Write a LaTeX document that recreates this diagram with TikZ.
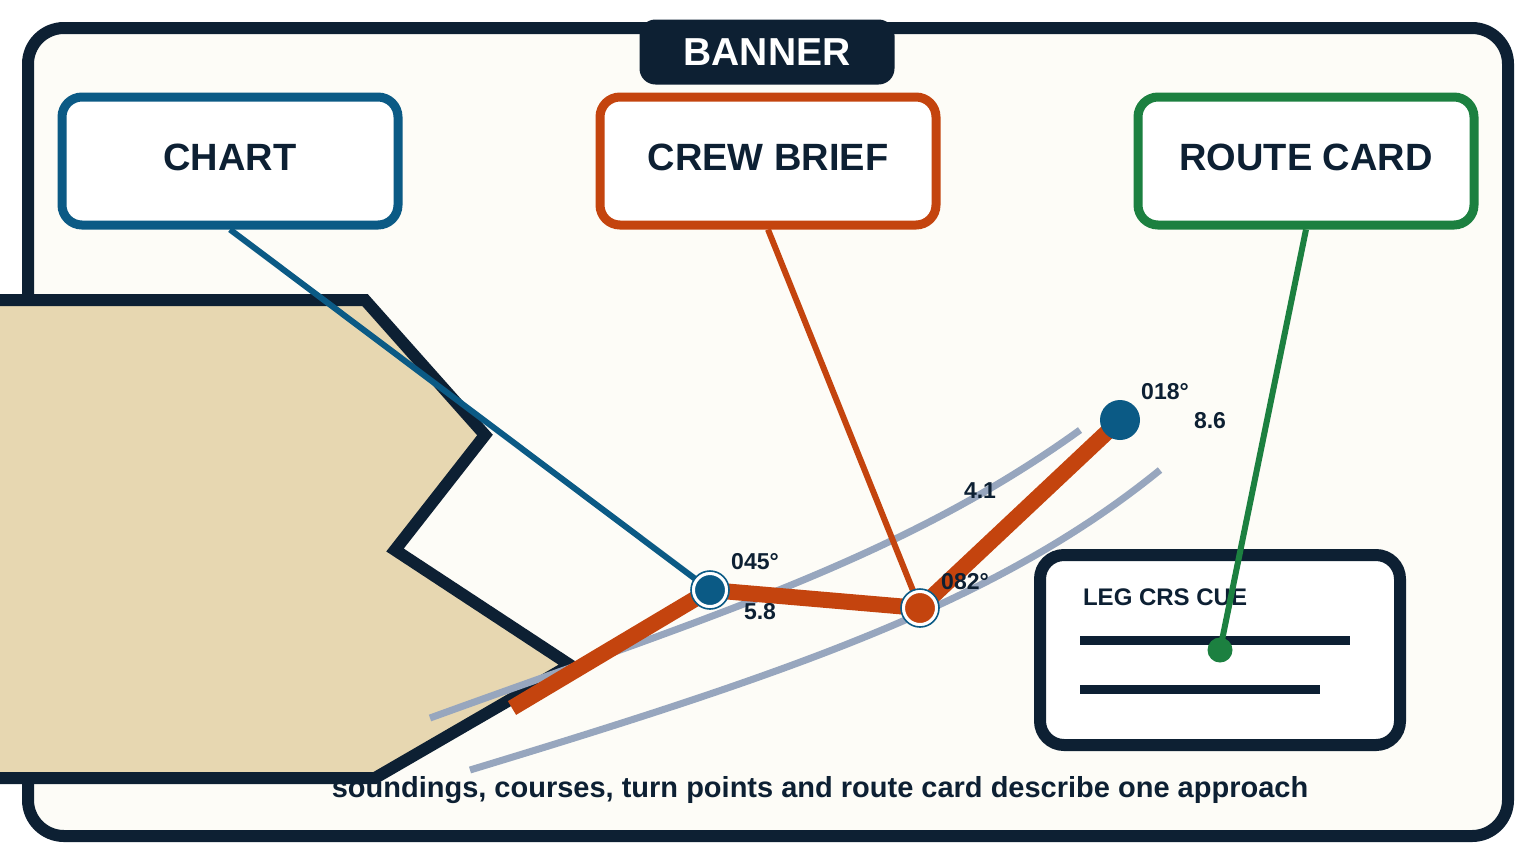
\documentclass[tikz,border=0pt]{standalone}
\usepackage{fontspec}
\setmainfont{Liberation Sans}
\begin{document}
\begin{tikzpicture}[x=0.5pt,y=-0.5pt,
  box/.style={line width=4.5pt,rounded corners=10pt,fill=white,minimum width=168pt,minimum height=64pt,font=\bfseries\fontsize{19}{22}\selectfont,text=ink,text depth=4pt},
  lbl/.style={font=\bfseries\fontsize{11.5}{13}\selectfont,text=ink},
  contour/.style={draw=contourc,line width=3.5pt},
  conn/.style={line width=3pt}]
\definecolor{ink}{HTML}{0D2033}
\definecolor{bg}{HTML}{FDFCF7}
\definecolor{cblue}{HTML}{0B5A85}
\definecolor{corange}{HTML}{C4440E}
\definecolor{cgreen}{HTML}{1C8040}
\definecolor{land}{HTML}{E7D7B1}
\definecolor{contourc}{HTML}{97A6BE}
\useasboundingbox (0,0) rectangle (1536,864);
\fill[white] (0,0) rectangle (1536,864);
\draw[ink,fill=bg,line width=6pt,rounded corners=18pt] (28,28) rectangle (1508,836);
% banner
\node[fill=ink,rounded corners=8pt,minimum width=127.5pt,minimum height=32.5pt,text=white,font=\bfseries\fontsize{19.5}{22}\selectfont] (banner) at (767,52) {BANNER};
% boxes
\node[box,draw=cblue] (chart) at (230,161) {CHART};
\node[box,draw=corange] (crew) at (768,161) {CREW BRIEF};
\node[box,draw=cgreen] (route) at (1306,161) {ROUTE CARD};
% hidden label
\node[lbl] (l7) at (550,666) {7};
% land
\draw[ink,fill=land,line width=6pt,line join=miter] (0,300) -- (365,300) -- (485,435) -- (395,550) -- (570,665) -- (375,778) -- (0,778);
% contours
\draw[contour] (430,718) .. controls (700,620) and (900,560) .. (1080,430);
\draw[contour] (470,770) .. controls (800,670) and (1000,600) .. (1160,470);
% card
\draw[ink,fill=white,line width=6pt,rounded corners=12pt] (1040,555) rectangle (1400,745);
\node[lbl,anchor=west,font=\bfseries\fontsize{12}{14}\selectfont] (cue) at (1076,597) {LEG CRS CUE};
\coordinate (c1a) at (1080,640); \coordinate (c1b) at (1350,640);
\coordinate (c2a) at (1080,689); \coordinate (c2b) at (1320,689);
\draw[ink,line width=4.5pt] (c1a) -- (c1b);
\draw[ink,line width=4.5pt] (c2a) -- (c2b);
% route
\coordinate (start) at (512,708);
\coordinate (wp1) at (710,590);
\coordinate (wp2) at (920,608);
\coordinate (wp3) at (1120,420);
\draw[corange,line width=8pt] (start) -- (wp1) -- (wp2) -- (wp3);
% connectors
\coordinate (gdot) at (1220,650);
\draw[cblue,conn] (chart.south) -- (wp1);
\draw[corange,conn] (crew.south) -- (wp2);
\draw[cgreen,conn] (route.south) -- (gdot);
% waypoint markers
\node[circle,fill=cblue,draw=white,line width=2pt,minimum size=17pt,inner sep=0pt] (m1) at (wp1) {};
\draw[cblue,line width=0.8pt] (m1) circle (9.5pt);
\node[circle,fill=corange,draw=white,line width=2pt,minimum size=17pt,inner sep=0pt] (m2) at (wp2) {};
\draw[cblue,line width=0.8pt] (m2) circle (9.5pt);
\node[circle,fill=cblue,minimum size=20pt,inner sep=0pt] (m3) at (wp3) {};
\node[circle,fill=cgreen,minimum size=12.5pt,inner sep=0pt] (m4) at (gdot) {};
% labels
\node[lbl] (a1) at (755,562) {045°};
\node[lbl] (d1) at (760,612) {5.8};
\node[lbl] (a2) at (965,582) {082°};
\node[lbl] (d2) at (980,491) {4.1};
\node[lbl] (a3) at (1165,392) {018°};
\node[lbl] (d3) at (1210,421) {8.6};
\node[font=\bfseries\fontsize{14.5}{17}\selectfont,text=ink] (cap) at (820,790) {soundings, courses, turn points and route card describe one approach};
\end{tikzpicture}
\end{document}
